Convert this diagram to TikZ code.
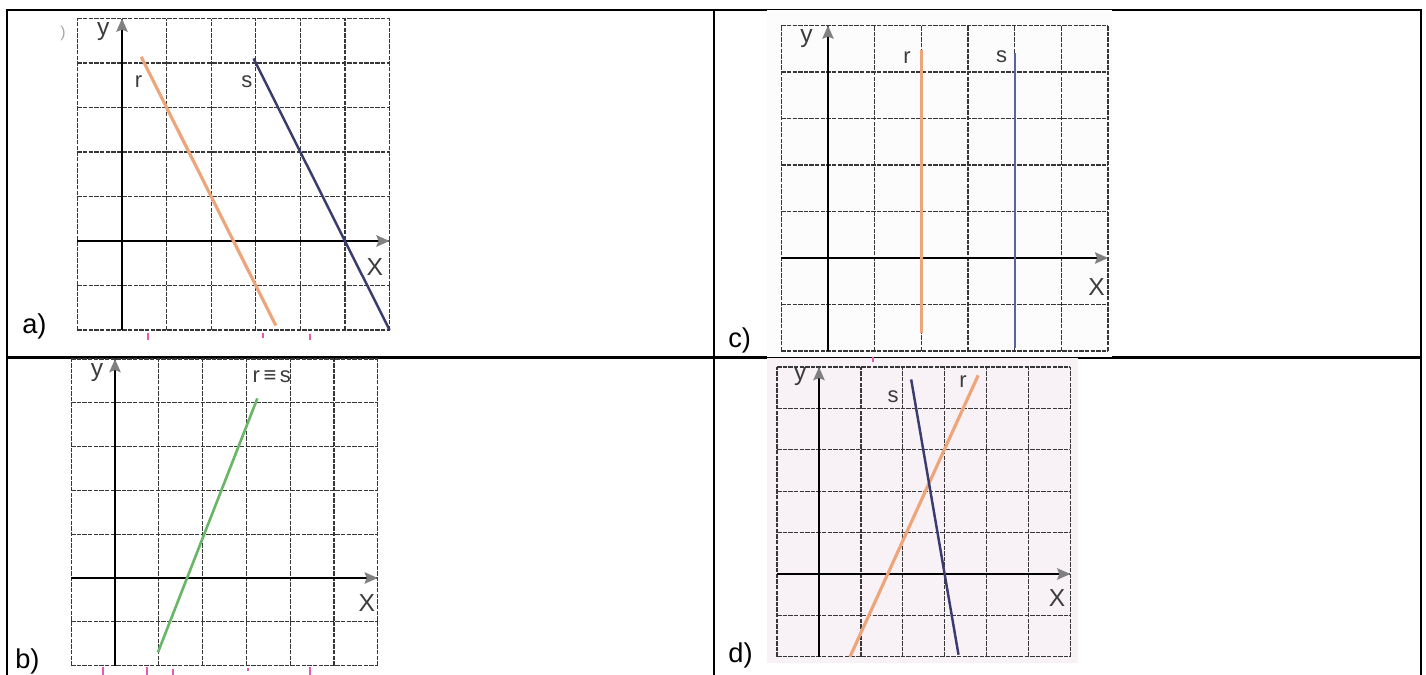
\documentclass[tikz,border=0pt]{standalone}
\usepackage{fontspec}
\setmainfont{Liberation Sans}
\usetikzlibrary{arrows.meta}

\definecolor{rorange}{RGB}{238,165,122}
\definecolor{snavy}{RGB}{58,60,110}
\definecolor{sblue}{RGB}{90,100,165}
\definecolor{ggreen}{RGB}{105,182,105}
\definecolor{gridgray}{RGB}{55,55,55}
\definecolor{labgray}{RGB}{60,60,60}
\definecolor{pinkbg}{RGB}{248,242,247}
\definecolor{lightbg}{RGB}{253,252,253}
\definecolor{pinkmark}{RGB}{228,90,175}

\tikzset{
  frame/.style={black,line width=1.2pt},
  gridline/.style={gridgray,line width=0.75pt,dash pattern=on 2.5pt off 0.7pt},
  axisline/.style={black,line width=1.1pt,-{Stealth[length=7.5pt,width=6.5pt,inset=1.2pt,color=gray]}},
  axislabel/.style={labgray,font=\fontsize{14}{14}\selectfont,inner sep=0pt},
  linelabel/.style={labgray,font=\fontsize{12.5}{12.5}\selectfont,inner sep=0pt},
  panellabel/.style={black,font=\fontsize{15.5}{15.5}\selectfont,inner sep=0pt,anchor=base west},
  linered/.style={rorange,line width=1.8pt},
  linenavy/.style={snavy,line width=1.4pt},
  lineblue/.style={sblue,line width=1.3pt},
  linegreen/.style={ggreen,line width=1.5pt},
  scanmark/.style={pinkmark,line width=1.2pt}
}

\begin{document}
\begin{tikzpicture}[x=0.02cm,y=-0.02cm]
\useasboundingbox (0,0) rectangle (1426,675);
\fill[white] (0,0) rectangle (1426,675);

% table
\draw[frame] (7,680) -- (7,10) -- (1421,10) -- (1421,680);
\draw[frame] (714,10) -- (714,680);
\draw[frame] (7,357.5) -- (1421,357.5);
\fill[lightbg] (767,10) rectangle (1112,357);
\fill[pinkbg] (767,358) rectangle (1078,663);

% a)
\begin{scope}[shift={(122,241)},x=0.892cm,y=0.89cm]
\draw[gridline,step={(1,1)}] (-1,-2) grid (6,5);
\draw[axisline] (-1,0) -- (6,0);
\draw[axisline] (0,-2) -- (0,5);
\draw[linered] (0.43,4.14) -- (3.45,-1.9);
\draw[linenavy] (2.95,4.1) -- (6,-2);
\node[axislabel] (ya) at (-0.42,4.7) {y};
\node[axislabel] (xa) at (5.67,-0.58) {X};
\node[linelabel] (ra) at (0.37,3.58) {r};
\node[linelabel] (sa) at (2.8,3.58) {s};
\end{scope}
\node[gray!70,font=\fontsize{9}{9}\selectfont,inner sep=0pt] (cut) at (63,33) {)};
\draw[scanmark] (148,333) -- (148,340);
\draw[scanmark] (263,333) -- (263,338);
\draw[scanmark] (310,334) -- (310,340);
\node[panellabel] (la) at (22,334) {a)};

% b)
\begin{scope}[shift={(115,578)},x=0.876cm,y=0.876cm]
\draw[gridline,step={(1,1)}] (-1,-2) grid (6,5);
\draw[axisline] (-1,0) -- (6,0);
\draw[axisline] (0,-2) -- (0,5);
\draw[linegreen] (0.98,-1.7) -- (3.25,4.1);
\node[axislabel] (yb) at (-0.41,4.7) {y};
\node[axislabel] (xb) at (5.75,-0.57) {X};
\node[linelabel] (rsb) at (3.58,4.6) {r\,≡\,s};
\end{scope}
\draw[scanmark] (103,667) -- (103,675);
\draw[scanmark] (147,667) -- (147,675);
\draw[scanmark] (173,669) -- (173,675);
\draw[scanmark] (248,668) -- (248,671);
\draw[scanmark] (310,667) -- (310,675);
\node[panellabel] (lb) at (15,668) {b)};

% c)
\begin{scope}[shift={(828,258)},x=0.934cm,y=0.93cm]
\draw[gridline,step={(1,1)}] (-1,-2) grid (6,5);
\draw[axisline] (-1,0) -- (6,0);
\draw[axisline] (0,-2) -- (0,5);
\draw[linered] (2,4.47) -- (2,-1.62);
\draw[lineblue] (4,4.4) -- (4,-1.94);
\node[axislabel] (yc) at (-0.46,4.72) {y};
\node[axislabel] (xc) at (5.75,-0.63) {X};
\node[linelabel] (rc) at (1.69,4.32) {r};
\node[linelabel] (sc) at (3.72,4.32) {s};
\end{scope}
\node[panellabel] (lc) at (728,348) {c)};

% d)
\begin{scope}[shift={(819,574)},x=0.838cm,y=0.828cm]
\draw[gridline,step={(1,1)}] (-1,-2) grid (6,5);
\draw[axisline] (-1,0) -- (6,0);
\draw[axisline] (0,-2) -- (0,5);
\draw[linered] (0.74,-2) -- (3.8,4.8);
\draw[linenavy] (2.2,4.7) -- (3.33,-1.95);
\node[axislabel] (yd) at (-0.45,4.76) {y};
\node[axislabel] (xd) at (5.68,-0.58) {X};
\node[linelabel] (sd) at (1.77,4.28) {s};
\node[linelabel] (rd) at (3.44,4.64) {r};
\end{scope}
\draw[scanmark] (873,357) -- (873,362);
\node[panellabel] (ld) at (728,662) {d)};
\end{tikzpicture}
\end{document}
